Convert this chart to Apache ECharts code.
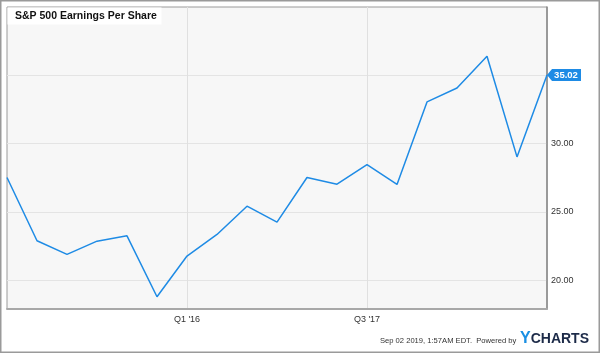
<!DOCTYPE html>
<html>
<head>
<meta charset="utf-8">
<script src="https://cdn.jsdelivr.net/npm/echarts@6/dist/echarts.min.js"></script>
<style>
html,body{margin:0;padding:0;background:#fff;}
#c{width:600px;height:353px;}
</style>
</head>
<body>
<div id="c"></div>
<script>
var chartTitle = "S&P 500 Earnings Per Share";
var categories = ["Q3 '14","Q4 '14","Q1 '15","Q2 '15","Q3 '15","Q4 '15","Q1 '16","Q2 '16","Q3 '16","Q4 '16","Q1 '17","Q2 '17","Q3 '17","Q4 '17","Q1 '18","Q2 '18","Q3 '18","Q4 '18","Q1 '19"];
var epsValues = [27.51, 22.88, 21.88, 22.85, 23.24, 18.78, 21.76, 23.34, 25.41, 24.24, 27.51, 27.02, 28.46, 27.00, 33.05, 34.07, 36.39, 29.02, 35.02];
var xLabelsShown = ["Q1 '16", "Q3 '17"];
var yTickValues = [20, 25, 30, 35];
var yMin = 17.88, yMax = 40;
var footerText = "Sep 02 2019, 1:57AM EDT.  Powered by";

var FONT = "'Liberation Sans', Arial, Helvetica, sans-serif";
var lineColor = '#1e8be5';
var lastIdx = epsValues.length - 1;
function showX(i){ return xLabelsShown.indexOf(categories[i]) >= 0; }

var chart = echarts.init(document.getElementById('c'), null, {renderer:'canvas'});
chart.setOption({
  animation: false,
  backgroundColor: '#ffffff',
  grid: {
    left: 7, right: 53, top: 7, bottom: 44,
    show: true, backgroundColor: '#f7f7f7', borderColor: '#9a9a9a', borderWidth: 1
  },
  xAxis: {
    type: 'category',
    data: categories,
    boundaryGap: false,
    axisLine: {show: true, lineStyle: {color: '#a8a8a8', width: 2}},
    axisTick: {show: false},
    axisLabel: {
      interval: function(i){ return showX(i); },
      color: '#333', fontSize: 9, fontFamily: FONT, margin: 6
    },
    splitLine: {
      show: true,
      interval: function(i){ return showX(i); },
      lineStyle: {color: '#e0e0e0', width: 1}
    }
  },
  yAxis: {
    type: 'value',
    position: 'right',
    min: yMin, max: yMax,
    axisLine: {show: true, lineStyle: {color: '#8a8a8a', width: 1.5}},
    axisTick: {show: false, customValues: yTickValues},
    axisLabel: {
      customValues: yTickValues,
      formatter: function(v){ return Number(v).toFixed(2); },
      color: '#333', fontSize: 9, fontFamily: FONT, margin: 4
    },
    splitLine: {show: true, lineStyle: {color: '#e4e4e4', width: 1}}
  },
  series: [{
    type: 'line',
    data: epsValues,
    showSymbol: false,
    symbol: 'none',
    clip: false,
    lineStyle: {color: lineColor, width: 1.5},
    z: 3,
    markPoint: {
      silent: true,
      symbol: 'path://M0,6 L5,0 L34,0 L34,12 L5,12 Z',
      symbolSize: [34, 12],
      symbolOffset: [17, 0],
      itemStyle: {color: lineColor},
      label: {
        show: true, position: 'inside', offset: [2, 0],
        color: '#fff', fontWeight: 'bold', fontSize: 9.5, fontFamily: FONT,
        formatter: function(p){ return Number(p.value).toFixed(2); }
      },
      data: [{coord: [lastIdx, epsValues[lastIdx]], value: epsValues[lastIdx]}]
    }
  }],
  graphic: [
    {type: 'rect', z: 100, silent: true,
     shape: {x: 0.75, y: 0.75, width: 598.5, height: 351.5},
     style: {fill: 'none', stroke: '#9a9a9a', lineWidth: 1.5}},
    {type: 'rect', z: 100, silent: true,
     shape: {x: 7.5, y: 7.5, width: 154, height: 17},
     style: {fill: '#ffffff'}},
    {type: 'text', z: 101, silent: true, left: 15, top: 10.5,
     style: {text: chartTitle, fill: '#111', font: 'bold 10.5px ' + FONT}},
    {type: 'text', z: 101, silent: true, left: 380, top: 337,
     style: {text: footerText, fill: '#333', font: '7.6px ' + FONT}},
    {type: 'text', z: 101, silent: true, left: 520, top: 331,
     style: {
       text: '{y|Y}{c|CHARTS}',
       rich: {
         y: {fill: '#1a8fe3', font: 'bold 16px ' + FONT, fontWeight: 'bold', fontSize: 16, fontFamily: FONT, color: '#1a8fe3'},
         c: {fill: '#1c2a48', font: 'bold 14px ' + FONT, fontWeight: 'bold', fontSize: 14, fontFamily: FONT, color: '#1c2a48'}
       }
     }}
  ]
});
</script>
</body>
</html>
